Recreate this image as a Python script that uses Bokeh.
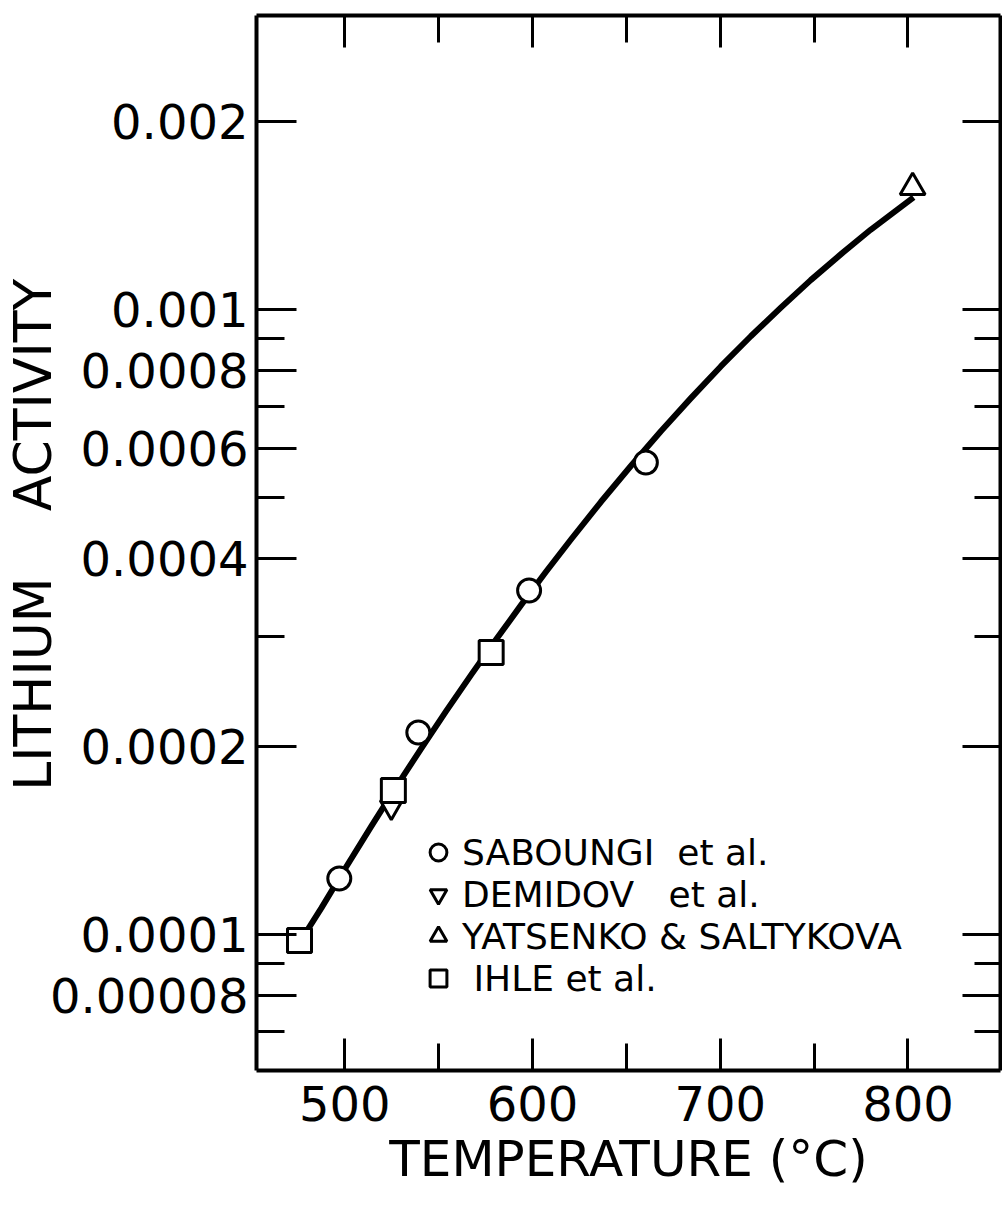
from bokeh.plotting import figure
from bokeh.models import Range1d, LinearAxis, LogAxis, FixedTicker, Legend, LegendItem
from bokeh.embed import file_html
from bokeh.resources import INLINE

# ---------------- data ----------------
curve_t = [475.9, 487.6, 500.9, 514.2, 527.5, 540.8, 554.1, 567.4, 580.7, 594.0, 607.3,
           620.6, 636.5, 652.5, 668.4, 684.4, 700.3, 716.3, 732.3, 748.2, 764.2, 780.1, 803.0]
curve_a = [0.0000971, 0.0001103, 0.0001285, 0.0001491, 0.0001724, 0.0001986, 0.0002279,
           0.0002605, 0.0002967, 0.0003368, 0.0003808, 0.0004289, 0.0004924, 0.0005622,
           0.0006385, 0.0007213, 0.0008106, 0.000906, 0.001007, 0.001114, 0.001225,
           0.001341, 0.001511]

saboungi_t = [497.1, 539.2, 598.2, 660.4]
saboungi_a = [0.0001229, 0.0002105, 0.0003551, 0.000569]

demidov_t = [524.8]
demidov_a = [0.000160]

yatsenko_t = [802.5]
yatsenko_a = [0.001568]

ihle_t = [475.9, 525.9, 578.0]
ihle_a = [0.0000978, 0.000170, 0.0002826]

y_major = [0.002, 0.001, 0.0008, 0.0006, 0.0004, 0.0002, 0.0001, 0.00008]
y_labels = ["0.002", "0.001", "0.0008", "0.0006", "0.0004", "0.0002", "0.0001", "0.00008"]
y_minor = [0.0009, 0.0007, 0.0005, 0.0003, 0.00009, 0.00007]
x_major = [500, 600, 700, 800]
x_labels = ["500", "600", "700", "800"]
x_minor = [550, 650, 750]

FONT = "DejaVu Sans"
NB = "\u00a0"

p = figure(width=1002, height=1205,
           x_range=Range1d(453, 849.3), y_range=Range1d(0.0000606, 0.002953),
           y_axis_type="log", output_backend="svg", toolbar_location=None,
           min_border_left=255, min_border_right=2, min_border_top=15,
           min_border_bottom=135)
p.outline_line_color = None
p.xgrid.visible = False
p.ygrid.visible = False
p.background_fill_color = "white"
p.border_fill_color = "white"


def style(ax, tin, minin):
    ax.axis_line_width = 4
    ax.axis_line_color = "black"
    ax.major_tick_line_width = 3
    ax.minor_tick_line_width = 3
    ax.major_tick_line_color = "black"
    ax.minor_tick_line_color = "black"
    ax.major_tick_in = tin
    ax.major_tick_out = 0
    ax.minor_tick_in = minin
    ax.minor_tick_out = 0
    ax.major_label_text_font = FONT
    ax.major_label_text_font_size = "48px"
    ax.major_label_text_color = "black"


# left axis
ly = p.yaxis[0]
ly.ticker = FixedTicker(ticks=y_major, minor_ticks=y_minor)
ly.major_label_overrides = dict(zip(y_major, y_labels))
style(ly, 40, 28)
ly.major_label_standoff = 8
ly.axis_label = NB + "LITHIUM" + NB * 4 + "ACTIVITY"
ly.axis_label_text_font = FONT
ly.axis_label_text_font_size = "52px"
ly.axis_label_text_font_style = "normal"
ly.axis_label_text_color = "black"
ly.axis_label_standoff = -16

# bottom axis
bx = p.xaxis[0]
bx.ticker = FixedTicker(ticks=x_major, minor_ticks=x_minor)
bx.major_label_overrides = dict(zip(x_major, x_labels))
style(bx, 32, 27)
bx.major_label_standoff = 15
bx.axis_label = "TEMPERATURE (°C)"
bx.axis_label_text_font = FONT
bx.axis_label_text_font_size = "50px"
bx.axis_label_text_font_style = "normal"
bx.axis_label_text_color = "black"
bx.axis_label_standoff = 6

# top and right axes: ticks only
tx = LinearAxis(ticker=FixedTicker(ticks=x_major, minor_ticks=x_minor))
style(tx, 32, 27)
tx.major_label_overrides = {v: "" for v in x_major}
tx.major_label_standoff = 0
p.add_layout(tx, "above")

ry = LogAxis(ticker=FixedTicker(ticks=y_major, minor_ticks=y_minor))
style(ry, 38, 26)
ry.major_label_overrides = {v: "" for v in y_major}
ry.major_label_standoff = 0
p.add_layout(ry, "right")

# curve
p.line(curve_t, curve_a, line_width=6, line_color="black", line_join="round")

# markers
mk = dict(line_color="black", line_width=3, fill_color="white")
r_dem = p.scatter(demidov_t, demidov_a, marker="inverted_triangle", size=22, **mk)
r_ihle = p.scatter(ihle_t, ihle_a, marker="square", size=24, **mk)
r_sab = p.scatter(saboungi_t, saboungi_a, marker="circle", size=23, **mk)
r_yat = p.scatter(yatsenko_t, yatsenko_a, marker="triangle", size=25, **mk)

legend = Legend(items=[
    LegendItem(label="SABOUNGI" + NB * 2 + "et al.", renderers=[r_sab]),
    LegendItem(label="DEMIDOV" + NB * 3 + "et al.", renderers=[r_dem]),
    LegendItem(label="YATSENKO & SALTYKOVA", renderers=[r_yat]),
    LegendItem(label=NB + "IHLE" + NB + "et al.", renderers=[r_ihle]),
], location=(161, 71), orientation="vertical")
legend.label_text_font = FONT
legend.label_text_font_size = "36px"
legend.label_text_color = "black"
legend.glyph_width = 42
legend.glyph_height = 42
legend.label_height = 42
legend.label_standoff = 3
legend.spacing = 0
legend.padding = 0
legend.margin = 0
legend.border_line_color = None
legend.background_fill_alpha = 0
legend.click_policy = "none"
p.add_layout(legend, "center")

open("out.html", "w").write(file_html(p, INLINE))
